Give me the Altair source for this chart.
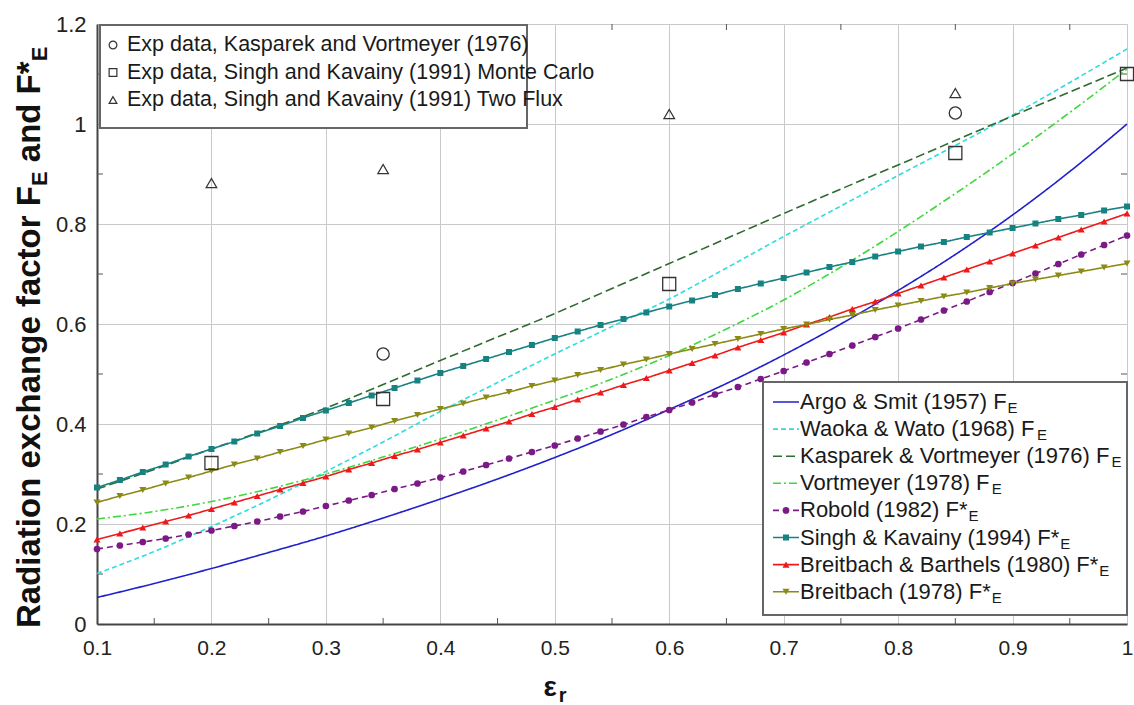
import altair as alt
import pandas as pd

FONT = "Liberation Sans"

# ---------------- data ----------------
X_TICKS = [0.1, 0.2, 0.3, 0.4, 0.5, 0.6, 0.7, 0.8, 0.9, 1.0]
Y_TICKS = [0.0, 0.2, 0.4, 0.6, 0.8, 1.0, 1.2]
X_MINOR = [0.15, 0.25, 0.35, 0.45, 0.55, 0.65, 0.75, 0.85, 0.95]
Y_MINOR = [0.1, 0.3, 0.5, 0.7, 0.9, 1.1]

EPS_COARSE = [0.10, 0.15, 0.20, 0.25, 0.30, 0.35, 0.40, 0.45, 0.50, 0.55,
              0.60, 0.65, 0.70, 0.75, 0.80, 0.85, 0.90, 0.95, 1.00]
ARGO = [0.053, 0.081, 0.111, 0.143, 0.176, 0.212, 0.250, 0.290, 0.333, 0.379,
        0.429, 0.481, 0.538, 0.600, 0.667, 0.739, 0.818, 0.905, 1.000]
WAOKA = [0.101, 0.145, 0.195, 0.248, 0.305, 0.364, 0.425, 0.483, 0.540, 0.595,
         0.650, 0.712, 0.775, 0.836, 0.897, 0.957, 1.018, 1.083, 1.150]
KASPAREK = [0.270, 0.309, 0.350, 0.390, 0.432, 0.479, 0.527, 0.574, 0.621, 0.671,
            0.721, 0.771, 0.821, 0.870, 0.918, 0.967, 1.016, 1.064, 1.112]
VORTMEYER = [0.210, 0.225, 0.245, 0.270, 0.300, 0.334, 0.370, 0.408, 0.448, 0.490,
             0.537, 0.590, 0.648, 0.714, 0.785, 0.861, 0.940, 1.023, 1.110]

EPS_FINE = [0.10, 0.12, 0.14, 0.16, 0.18, 0.20, 0.22, 0.24, 0.26, 0.28,
            0.30, 0.32, 0.34, 0.36, 0.38, 0.40, 0.42, 0.44, 0.46, 0.48,
            0.50, 0.52, 0.54, 0.56, 0.58, 0.60, 0.62, 0.64, 0.66, 0.68,
            0.70, 0.72, 0.74, 0.76, 0.78, 0.80, 0.82, 0.84, 0.86, 0.88,
            0.90, 0.92, 0.94, 0.96, 0.98, 1.00]
ROBOLD = [0.150, 0.157, 0.164, 0.171, 0.179, 0.187, 0.196, 0.205, 0.215, 0.225,
          0.236, 0.247, 0.258, 0.270, 0.281, 0.293, 0.305, 0.318, 0.331, 0.344,
          0.357, 0.371, 0.385, 0.399, 0.414, 0.428, 0.443, 0.459, 0.474, 0.490,
          0.506, 0.523, 0.540, 0.557, 0.574, 0.591, 0.609, 0.627, 0.645, 0.664,
          0.682, 0.701, 0.720, 0.739, 0.758, 0.777]
SINGH = [0.273, 0.288, 0.304, 0.319, 0.335, 0.350, 0.365, 0.381, 0.396, 0.412,
         0.427, 0.442, 0.457, 0.472, 0.487, 0.502, 0.516, 0.530, 0.544, 0.558,
         0.572, 0.585, 0.598, 0.610, 0.623, 0.635, 0.647, 0.658, 0.670, 0.681,
         0.692, 0.703, 0.714, 0.724, 0.735, 0.745, 0.755, 0.764, 0.774, 0.783,
         0.792, 0.801, 0.810, 0.818, 0.827, 0.835]
BREIT_BARTH = [0.169, 0.181, 0.193, 0.205, 0.217, 0.230, 0.243, 0.256, 0.269, 0.282,
               0.295, 0.309, 0.322, 0.336, 0.349, 0.363, 0.377, 0.391, 0.405, 0.420,
               0.434, 0.449, 0.463, 0.478, 0.492, 0.507, 0.522, 0.537, 0.553, 0.568,
               0.583, 0.599, 0.614, 0.630, 0.645, 0.661, 0.677, 0.693, 0.709, 0.725,
               0.741, 0.757, 0.773, 0.789, 0.805, 0.821]
BREITBACH = [0.243, 0.256, 0.268, 0.281, 0.293, 0.306, 0.319, 0.331, 0.344, 0.356,
             0.369, 0.381, 0.393, 0.406, 0.418, 0.430, 0.441, 0.453, 0.464, 0.476,
             0.487, 0.498, 0.508, 0.519, 0.529, 0.540, 0.550, 0.560, 0.570, 0.580,
             0.590, 0.599, 0.609, 0.618, 0.628, 0.637, 0.646, 0.655, 0.663, 0.672,
             0.681, 0.689, 0.697, 0.705, 0.713, 0.721]

EXP_KV_X = [0.35, 0.85]
EXP_KV_Y = [0.54, 1.022]
EXP_MC_X = [0.2, 0.35, 0.6, 0.85, 1.0]
EXP_MC_Y = [0.322, 0.45, 0.68, 0.942, 1.10]
EXP_TF_X = [0.2, 0.35, 0.6, 0.85]
EXP_TF_Y = [0.882, 0.91, 1.02, 1.062]

SERIES = ["Argo & Smit (1957)", "Waoka & Wato (1968)", "Kasparek & Vortmeyer (1976)",
          "Vortmeyer (1978)", "Robold (1982)", "Singh & Kavainy (1994)",
          "Breitbach & Barthels (1980)", "Breitbach (1978)"]
SUFFIX = ["F", "F", "F", "F", "F*", "F*", "F*", "F*"]
EXP_LABELS = ["Exp data, Kasparek and Vortmeyer (1976)",
              "Exp data, Singh and Kavainy (1991) Monte Carlo",
              "Exp data, Singh and Kavainy (1991) Two Flux"]

# ---------------- styles ----------------
W, H = 1030, 600
COLORS = ["#2020cc", "#2fdcdc", "#2f6a2f", "#3ed83e", "#7b1a86", "#178282", "#ee1a1a", "#8a8a14"]
DASHES = [[1, 0], [5, 3], [9, 4], [8, 3, 2, 3], [6, 4], [1, 0], [1, 0], [1, 0]]
SHAPES = {"Robold (1982)": "circle", "Singh & Kavainy (1994)": "square",
          "Breitbach & Barthels (1980)": "triangle-up", "Breitbach (1978)": "triangle-down"}
MSIZE = {"circle": 45, "square": 36, "triangle-up": 50, "triangle-down": 50}

REG_W = {' ': 278, '&': 667, '(': 333, ')': 333, '*': 389, ',': 278, '.': 278, '-': 333,
         'A': 667, 'B': 667, 'C': 722, 'E': 667, 'F': 611, 'K': 667, 'M': 833, 'R': 722,
         'S': 667, 'T': 611, 'V': 667, 'W': 944,
         'a': 556, 'b': 556, 'c': 500, 'd': 556, 'e': 556, 'f': 278, 'g': 556, 'h': 556,
         'i': 222, 'k': 500, 'l': 222, 'm': 833, 'n': 556, 'o': 556, 'p': 556, 'r': 333,
         's': 500, 't': 278, 'u': 556, 'v': 500, 'w': 722, 'x': 500, 'y': 500}
BOLD_W = {' ': 278, '*': 389, 'E': 667, 'F': 611, 'R': 722, 'a': 556, 'c': 556, 'd': 611,
          'e': 556, 'f': 333, 'g': 611, 'h': 611, 'i': 278, 'n': 611, 'o': 611, 'r': 389,
          't': 333, 'x': 556}


def tw(s, size, bold=False):
    table = BOLD_W if bold else REG_W
    return sum(table.get(ch, 556) for ch in s) * size / 1000.0


# ---------------- frames ----------------
rows = []
coarse = [ARGO, WAOKA, KASPAREK, VORTMEYER]
fine = [ROBOLD, SINGH, BREIT_BARTH, BREITBACH]
for name, vals in zip(SERIES[:4], coarse):
    rows += [{"series": name, "eps": e, "val": v} for e, v in zip(EPS_COARSE, vals)]
for name, vals in zip(SERIES[4:], fine):
    rows += [{"series": name, "eps": e, "val": v} for e, v in zip(EPS_FINE, vals)]
lines_df = pd.DataFrame(rows)
marks_df = lines_df[lines_df["series"].isin(SERIES[4:])]

ONE = pd.DataFrame({"k": [0]})

X = alt.X("eps:Q", scale=alt.Scale(domain=[0.1, 1.0], nice=False, zero=False),
          axis=alt.Axis(values=X_TICKS, format=".1~f", title=None, grid=True,
                        gridColor="#c9c9c9", gridWidth=1, ticks=False, tickSize=0,
                        labelPadding=13, labelFontSize=21, labelColor="#222",
                        labelFont=FONT, domainColor="#444", domainWidth=2,
                        labelFlush=False))
Y = alt.Y("val:Q", scale=alt.Scale(domain=[0, 1.2], nice=False, zero=False),
          axis=alt.Axis(values=Y_TICKS, format=".1~f", title=None, grid=True,
                        gridColor="#c9c9c9", gridWidth=1, ticks=False, tickSize=0,
                        labelPadding=11, labelFontSize=22, labelColor="#222",
                        labelFont=FONT, domainColor="#444", domainWidth=2,
                        labelFlush=False))
COLOR = alt.Color("series:N", scale=alt.Scale(domain=SERIES, range=COLORS), legend=None)
DASH = alt.StrokeDash("series:N", scale=alt.Scale(domain=SERIES, range=DASHES), legend=None)

layers = []
layers.append(alt.Chart(pd.DataFrame({"eps": X_MINOR})).mark_rule(color="#555", strokeWidth=1)
              .encode(x=X, y=alt.value(H), y2=alt.value(H - 6)))
layers.append(alt.Chart(pd.DataFrame({"eps": X_MINOR})).mark_rule(color="#555", strokeWidth=1)
              .encode(x=X, y=alt.value(0), y2=alt.value(6)))
layers.append(alt.Chart(pd.DataFrame({"val": Y_MINOR})).mark_rule(color="#555", strokeWidth=1)
              .encode(y=Y, x=alt.value(0), x2=alt.value(6)))
layers.append(alt.Chart(pd.DataFrame({"val": Y_MINOR})).mark_rule(color="#555", strokeWidth=1)
              .encode(y=Y, x=alt.value(W - 6), x2=alt.value(W)))

layers.append(alt.Chart(lines_df).mark_line(strokeWidth=1.6, interpolate="monotone")
              .encode(x=X, y=Y, color=COLOR, strokeDash=DASH))
for name, shp in SHAPES.items():
    layers.append(alt.Chart(marks_df[marks_df["series"] == name])
                  .mark_point(filled=True, opacity=1, shape=shp, size=MSIZE[shp])
                  .encode(x=X, y=Y, color=COLOR))

exp_sets = [(EXP_KV_X, EXP_KV_Y, "circle", 150), (EXP_MC_X, EXP_MC_Y, "square", 170),
            (EXP_TF_X, EXP_TF_Y, "triangle-up", 110)]
for xs, ys, shp, sz in exp_sets:
    layers.append(alt.Chart(pd.DataFrame({"eps": xs, "val": ys}))
                  .mark_point(filled=False, shape=shp, size=sz, stroke="#333",
                              strokeWidth=1.3, opacity=1)
                  .encode(x=X, y=Y))

# ---------- legend 1 (top-left) ----------
layers.append(alt.Chart(ONE).mark_rect(fill="white", stroke="#666", strokeWidth=2)
              .encode(x=alt.value(3), x2=alt.value(430), y=alt.value(1), y2=alt.value(104)))
for i, (lab, (_, _, shp, _)) in enumerate(zip(EXP_LABELS, exp_sets)):
    ly = 21 + 27.5 * i
    layers.append(alt.Chart(ONE).mark_point(filled=False, shape=shp, size=60, stroke="#333",
                                            strokeWidth=1.2, opacity=1)
                  .encode(x=alt.value(16), y=alt.value(ly)))
    layers.append(alt.Chart(ONE).mark_text(text=lab, align="left", baseline="middle",
                                           fontSize=21.5, font=FONT, color="#1a1a1a")
                  .encode(x=alt.value(30), y=alt.value(ly)))

# ---------- legend 2 (bottom-right) ----------
LFS = 22
layers.append(alt.Chart(ONE).mark_rect(fill="white", stroke="#666", strokeWidth=2)
              .encode(x=alt.value(666), x2=alt.value(W), y=alt.value(358), y2=alt.value(591)))
for i, (name, suf, col, dash) in enumerate(zip(SERIES, SUFFIX, COLORS, DASHES)):
    ly = 378 + 27.1 * i
    layers.append(alt.Chart(ONE).mark_rule(color=col, strokeWidth=1.6, strokeDash=dash)
                  .encode(x=alt.value(676), x2=alt.value(702), y=alt.value(ly)))
    if name in SHAPES:
        shp = SHAPES[name]
        layers.append(alt.Chart(ONE).mark_point(filled=True, opacity=1, shape=shp,
                                                size=MSIZE[shp], color=col)
                      .encode(x=alt.value(689), y=alt.value(ly)))
    main = name + " " + suf
    layers.append(alt.Chart(ONE).mark_text(text=main, align="left", baseline="middle",
                                           fontSize=LFS, font=FONT, color="#1a1a1a")
                  .encode(x=alt.value(703), y=alt.value(ly)))
    layers.append(alt.Chart(ONE).mark_text(text="E", align="left", baseline="middle",
                                           fontSize=15, font=FONT, color="#1a1a1a")
                  .encode(x=alt.value(703 + tw(main, LFS) + 1), y=alt.value(ly + 6)))

# ---------- y-axis title (rotated, with subscripts) ----------
YT_X = -57
YT_Y0 = 604
S_BIG, S_SUB = 33, 22
# (text, size, baseline offset, gap before)
segs = [("Radiation exchange factor F", S_BIG, 0, 0), ("E", S_SUB, 7, 0),
        ("and F*", S_BIG, 0, tw(" ", S_BIG, True)), ("E", S_SUB, 7, 0)]
ypos = YT_Y0
for txt, sz, off, gap in segs:
    ypos -= gap
    layers.append(alt.Chart(ONE).mark_text(text=txt, align="left", baseline="alphabetic",
                                           angle=270, fontSize=sz, fontWeight="bold",
                                           font=FONT, color="#111")
                  .encode(x=alt.value(YT_X + off), y=alt.value(ypos)))
    ypos -= tw(txt, sz, bold=True)

# ---------- x-axis title ----------
XT_C = 458
eps_w = 0.55 * 28
r_w = tw("r", 20, bold=True)
x_start = XT_C - (eps_w + r_w) / 2
layers.append(alt.Chart(ONE).mark_text(text="\u03b5", align="left", baseline="alphabetic",
                                       fontSize=28, fontWeight="bold", font=FONT, color="#111")
              .encode(x=alt.value(x_start), y=alt.value(672)))
layers.append(alt.Chart(ONE).mark_text(text="r", align="left", baseline="alphabetic",
                                       fontSize=20, fontWeight="bold", font=FONT, color="#111")
              .encode(x=alt.value(x_start + eps_w), y=alt.value(678)))

chart = alt.layer(*layers).properties(
    width=W, height=H,
    autosize=alt.AutoSizeParams(type="none"),
    padding={"left": 97, "top": 24, "right": 1134 - 97 - W, "bottom": 705 - 24 - H},
).configure_view(stroke="#666", strokeWidth=1.5).configure(background="white")

chart.save("out.html", embed_options={"renderer": "svg", "actions": False})
